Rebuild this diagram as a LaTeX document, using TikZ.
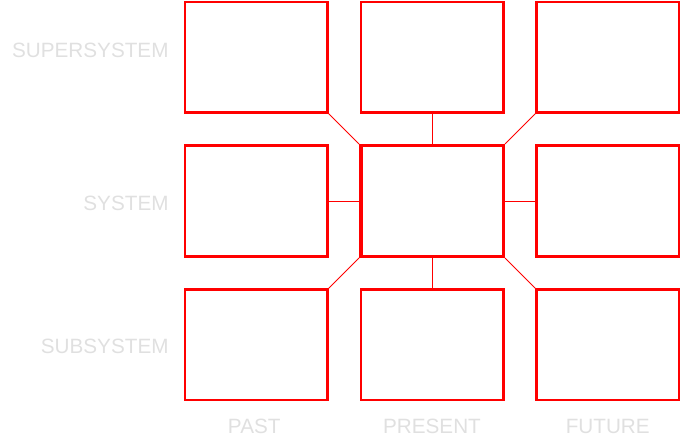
\documentclass[tikz,border=0pt]{standalone}
\usepackage{fontspec}
\setmainfont{Liberation Sans}
\usetikzlibrary{shapes,arrows,positioning,calc}
\tikzset{
cell/.style = {draw=red, fill=white, rectangle, line width=2.5pt, minimum width=142.5pt, minimum height=110.5pt},
core/.style = {cell, line width=3.5pt},
link/.style = {draw=red, line width=0.8pt},
axistext/.style = {text=white!88!black, font=\fontsize{20.7}{24}\selectfont, inner sep=3pt},
}
\begin{document}
\begin{tikzpicture}[auto, node distance=175.75pt,>=latex']
      \useasboundingbox (0,0) rectangle (682pt,-446pt);
      \node [core, name=sysPres] at (432pt,-201pt) (sysPres) {};
      \node [cell, name=sysPast, left of = sysPres] (sysPast) {};
      \node [cell, name=sysFut, right of = sysPres] (sysFut) {};
      \node [cell, name=supPres, above of = sysPres, node distance = 143.75pt] (supPres) {};
      \node [cell, name=supPast, above of = sysPast, node distance = 143.75pt] (supPast) {};
      \node [cell, name=supFut, above of = sysFut, node distance = 143.75pt] (supFut) {};
      \node [cell, name=subPres, below of = sysPres, node distance = 143.75pt] (subPres) {};
      \node [cell, name=subPast, below of = sysPast, node distance = 143.75pt] (subPast) {};
      \node [cell, name=subFut, below of = sysFut, node distance = 143.75pt] (subFut) {};
      \node [axistext, left=12pt of supPast, yshift=7pt] (supText) {SUPERSYSTEM};
      \node [axistext, left=12pt of sysPast, yshift=-2pt] (sysText) {SYSTEM};
      \node [axistext, left=12pt of subPast, yshift=-2pt] (subText) {SUBSYSTEM};
      \node [axistext, below=15pt of subPast, xshift=-2pt] (pastText) {PAST};
      \node [axistext, below=15pt of subPres] (presText) {PRESENT};
      \node [axistext, below=15pt of subFut] (futText) {FUTURE};
      \draw [link] (sysPres.north west) -- (supPast.south east);
      \draw [link] (sysPres.north) -- (supPres.south);
      \draw [link] (sysPres.north east) -- (supFut.south west);
      \draw [link] (sysPres.west) -- (sysPast.east);
      \draw [link] (sysPres.east) -- (sysFut.west);
      \draw [link] (sysPres.south west) -- (subPast.north east);
      \draw [link] (sysPres.south) -- (subPres.north);
      \draw [link] (sysPres.south east) -- (subFut.north west);
\end{tikzpicture}
\end{document}
